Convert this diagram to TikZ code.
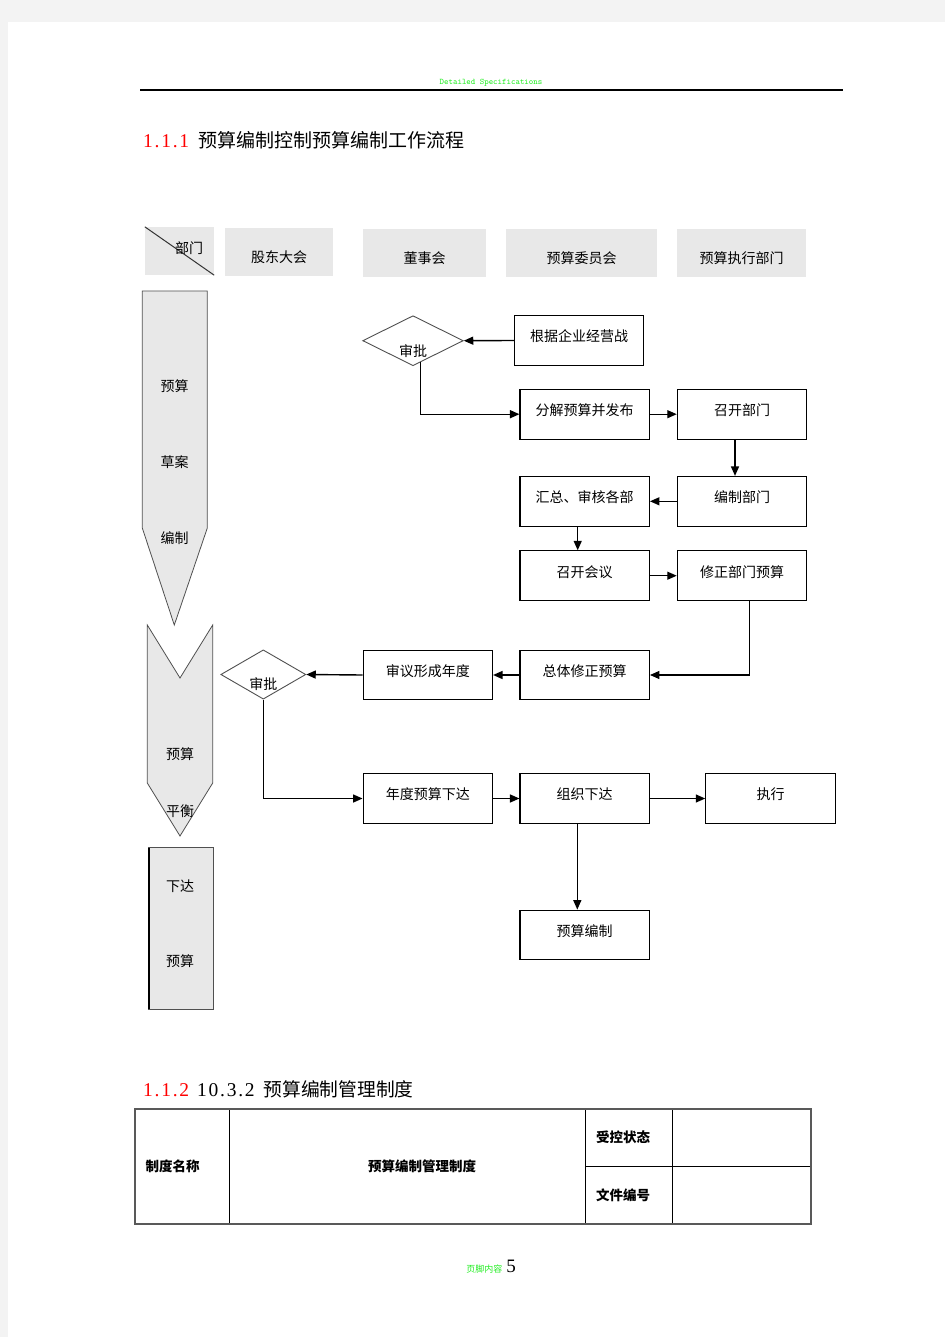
\documentclass[tikz,border=0pt]{standalone}
\usepackage{fontspec}
\setmainfont{Noto Sans CJK SC}
\newfontfamily\serifnum{Liberation Serif}
\newfontfamily\spacednum[LetterSpace=9]{Liberation Serif}
\usetikzlibrary{shapes.geometric,arrows.meta}
\definecolor{cellgray}{HTML}{E8E8E8}
\definecolor{pagegray}{HTML}{F3F3F3}
\definecolor{hdrgreen}{HTML}{22EE22}
\definecolor{edgegray}{HTML}{505050}
\begin{document}
\begin{tikzpicture}[x=1pt,y=-1pt,
  txt/.style={inner sep=0pt, font=\fontsize{14}{14}\selectfont},
  box/.style={draw=black, line width=1.1pt, fill=white, minimum width=129.4pt, minimum height=49.7pt,
    inner sep=0pt, font=\fontsize{14}{14}\selectfont, text height=9pt, text depth=6.4pt},
  hdr/.style={fill=cellgray, inner sep=0pt, minimum height=48pt,
    font=\fontsize{14}{14}\selectfont, text height=20.6pt, text depth=0pt},
  dia/.style={shape=diamond, draw=edgegray, line width=0.9pt, fill=white, inner sep=0pt,
    minimum width=100.6pt, minimum height=50pt},
  arr/.style={line width=1.4pt, -{Triangle[length=9.5pt,width=8pt]}},
  lane/.style={fill=cellgray, draw=edgegray, line width=0.8pt},
  ttl/.style={anchor=west, inner sep=0pt, font=\fontsize{19}{19}\selectfont}
]
% page
\fill[pagegray] (0,0) rectangle (945,1337);
\fill[white] (8,22) rectangle (945,1337);
\useasboundingbox (0,0) rectangle (945,1337);

% running header
\node[inner sep=0pt, font=\ttfamily\fontsize{8.5}{8.5}\selectfont, text=hdrgreen] (runhead) at (491,83) {Detailed Specifications};
\draw[line width=1.2pt] (140,90) -- (843,90);

% title 1
\node[ttl] (title1) at (143,140)
  {{\spacednum\fontsize{19.5}{19.5}\selectfont\color{red}1.1.1}\hspace{9pt}预算编制控制预算编制工作流程};

% column headers
\node[hdr, minimum width=69pt] (hbm) at (179.5,251) {};
\draw[line width=1pt, black!80] (hbm.north west) -- (hbm.south east);
\node[txt] (hbmtxt) at (189,248) {部门};
\node[hdr, minimum width=108pt] (hgd) at (279,252) {股东大会};
\node[hdr, minimum width=123pt] (hds) at (424.5,253) {董事会};
\node[hdr, minimum width=151pt] (hys) at (581.5,253) {预算委员会};
\node[hdr, minimum width=129pt] (hzx) at (741.5,253) {预算执行部门};

% left stage column
\filldraw[lane] (142.3,291) -- (207.3,291) -- (207.3,528) -- (174.3,625) -- (142.3,528) -- cycle;
\node[txt] (s1a) at (174.5,386) {预算};
\node[txt] (s1b) at (174.5,462) {草案};
\node[txt] (s1c) at (174.5,538) {编制};
\filldraw[lane] (147.3,625) -- (180,678) -- (212.7,625) -- (212.7,783) -- (180,836) -- (147.3,783) -- cycle;
\node[txt] (s2a) at (180,754) {预算};
\node[txt] (s2b) at (180,811) {平衡};
\filldraw[lane] (148.3,847.7) rectangle (213.3,1009);
\draw[line width=2pt] (149.3,847.7) -- (149.3,1009);
\node[txt] (s3a) at (180,886) {下达};
\node[txt] (s3b) at (180,961) {预算};

% flow nodes
\node[dia, label={[txt, yshift=-10pt]center:审批}] (d1) at (413,340.7) {};
\node[box] (gen) at (579.2,340.5) {根据企业经营战};
\node[box] (fen) at (584.7,414.2) {分解预算并发布};
\node[box] (zk) at (742,414.2) {召开部门};
\node[box] (bz) at (742,501.3) {编制部门};
\node[box] (hz) at (584.7,501.3) {汇总、审核各部};
\node[box] (hy) at (584.7,575.7) {召开会议};
\node[box] (xz) at (742,575.7) {修正部门预算};
\node[box] (zt) at (584.7,675) {总体修正预算};
\node[box] (sy) at (427.8,675) {审议形成年度};
\node[dia, minimum width=85pt, minimum height=49.3pt, label={[txt, yshift=-10pt]center:审批}] (d2) at (263.3,674.5) {};
\node[box] (nd) at (427.8,798.5) {年度预算下达};
\node[box] (zz) at (584.7,798.5) {组织下达};
\node[box] (zx) at (770.5,798.5) {执行};
\node[box] (ysbz) at (584.7,935) {预算编制};

% connectors
\draw[arr] (gen.west) -- (d1.east);
\draw[arr] ([xshift=7.4pt,yshift=3.7pt]d1.south) |- (fen.west);
\draw[arr] (fen.east) -- (zk.west);
\draw[arr] ([xshift=-7pt]zk.south) -- ([xshift=-7pt]bz.north);
\draw[arr] (bz.west) -- (hz.east);
\draw[arr] ([xshift=-7pt]hz.south) -- ([xshift=-7pt]hy.north);
\draw[arr] (hy.east) -- (xz.west);
\draw[arr] ([xshift=7.5pt]xz.south) |- (zt.east);
\draw[arr] (zt.west) -- (sy.east);
\draw[arr] (sy.west) -- (d2.east);
\draw[arr] (d2.south) |- (nd.west);
\draw[arr] (nd.east) -- (zz.west);
\draw[arr] (zz.east) -- (zx.west);
\draw[arr] ([xshift=-7.4pt]zz.south) -- ([xshift=-7.4pt]ysbz.north);

% title 2
\node[ttl, font=\fontsize{18.75}{18.75}\selectfont] (title2) at (143,1089)
  {{\spacednum\fontsize{19.5}{19.5}\selectfont\color{red}1.1.2}\hspace{8pt}{\spacednum\fontsize{19.5}{19.5}\selectfont 10.3.2}\hspace{9pt}预算编制管理制度};

% table
\draw[line width=0.9pt] (229,1109) -- (229,1224);
\draw[line width=0.9pt] (585,1109) -- (585,1224);
\draw[line width=0.9pt] (672,1109) -- (672,1224);
\draw[line width=0.9pt] (585,1166) -- (811,1166);
\draw[line width=1.5pt, draw=gray!70!black] (135,1109) rectangle (811,1224);
\node[txt, font=\fontsize{13.5}{13.5}\selectfont\bfseries] (tn) at (172.5,1166) {制度名称};
\node[txt, font=\fontsize{13.5}{13.5}\selectfont\bfseries] (tv) at (422,1166) {预算编制管理制度};
\node[txt, font=\fontsize{13.5}{13.5}\selectfont\bfseries] (ts) at (623,1137) {受控状态};
\node[txt, font=\fontsize{13.5}{13.5}\selectfont\bfseries] (tf) at (623,1195) {文件编号};

% footer
\node[inner sep=0pt, anchor=base] (foot) at (491,1272)
  {{\fontsize{9}{9}\selectfont\color{hdrgreen}页脚内容}\hspace{4pt}{\serifnum\fontsize{19}{19}\selectfont 5}};
\end{tikzpicture}
\end{document}
